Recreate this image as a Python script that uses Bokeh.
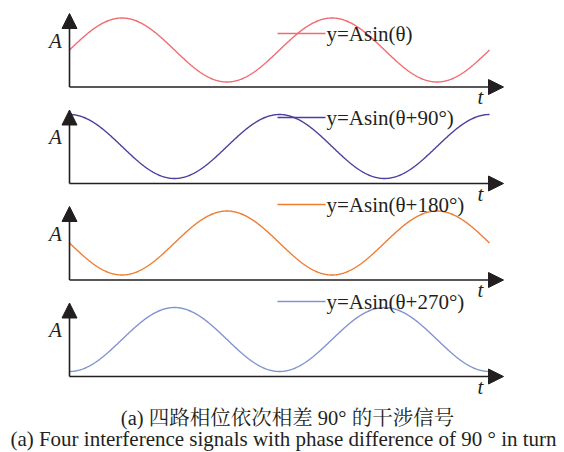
import numpy as np
from bokeh.plotting import figure
from bokeh.models import Range1d, Arrow, NormalHead
from bokeh.core.properties import value
from bokeh.embed import file_html
from bokeh.resources import INLINE

# ---- data ----
phases = [0, 90, 180, 270]                      # degrees
labels = ["y=Asin(θ)", "y=Asin(θ+90°)", "y=Asin(θ+180°)", "y=Asin(θ+270°)"]
colors = ["#f26a72", "#4b3f9f", "#ee7d32", "#8393cf"]
theta_end = 720                                  # two full periods
caption_cn = "(a) 四路相位依次相差 90° 的干涉信号"
caption_en = "(a) Four interference signals with phase difference of 90 ° in turn"

# ---- layout (picture pixel coordinates) ----
W, H = 564, 452
X0_PX = 69.0            # picture x of theta = 0
PX_PER_DEG = 420.0 / 720.0
AMP_PX = 32.0
MID0, STEP = 49.5, 96.5
LEG_Y = [33, 117, 204, 301]

def deg(px):
    return (px - X0_PX) / PX_PER_DEG

p = figure(width=W, height=H, output_backend="svg", toolbar_location=None,
           x_range=Range1d(deg(0), deg(W)), y_range=Range1d(H, 0),
           x_axis_type=None, y_axis_type=None, min_border=0)
p.outline_line_color = None
p.xgrid.visible = False
p.ygrid.visible = False
p.background_fill_color = "white"
p.border_fill_color = "white"

theta = np.linspace(0, theta_end, 721)
serif = value("Liberation Serif")
axis_col = "#231f20"

for k, (ph, lab, col) in enumerate(zip(phases, labels, colors)):
    mid = MID0 + STEP * k
    base = mid + 37
    tip = mid - 36.5
    yv = mid - AMP_PX * np.sin(np.deg2rad(theta + ph))
    # axes with arrowheads
    p.add_layout(Arrow(end=NormalHead(size=15, fill_color=axis_col, line_color=axis_col),
                       x_start=0, y_start=base, x_end=0, y_end=tip,
                       line_color=axis_col, line_width=1.6))
    p.add_layout(Arrow(end=NormalHead(size=15, fill_color=axis_col, line_color=axis_col),
                       x_start=0, y_start=base, x_end=deg(503), y_end=base,
                       line_color=axis_col, line_width=1.6))
    # curve
    p.line(theta, yv, line_color=col, line_width=1.4)
    # legend sample + text
    ly = LEG_Y[k]
    p.line([deg(277), deg(325)], [ly, ly], line_color=col, line_width=1.4)
    p.text(x=[deg(326)], y=[ly], text=[lab], text_font=serif,
           text_font_size="21px", text_color="#231f20",
           text_align="left", text_baseline="middle")
    # axis letters
    p.text(x=[deg(55)], y=[mid - 9.5], text=["A"], text_font=serif,
           text_font_size="21px", text_font_style="italic", text_color="#231f20",
           text_align="center", text_baseline="middle")
    p.text(x=[deg(480)], y=[base + 10], text=["t"], text_font=serif,
           text_font_size="21px", text_font_style="italic", text_color="#231f20",
           text_align="center", text_baseline="middle")

cap_font = value("Liberation Serif, Noto Serif CJK SC, Noto Sans CJK SC")
p.text(x=[deg(287)], y=[417], text=[caption_cn], text_font=cap_font,
       text_font_size="20.5px", text_color="#231f20",
       text_align="center", text_baseline="middle")
p.text(x=[deg(283)], y=[438], text=[caption_en], text_font=cap_font,
       text_font_size="21px", text_color="#231f20",
       text_align="center", text_baseline="middle")

open("out.html", "w").write(file_html(p, INLINE))
